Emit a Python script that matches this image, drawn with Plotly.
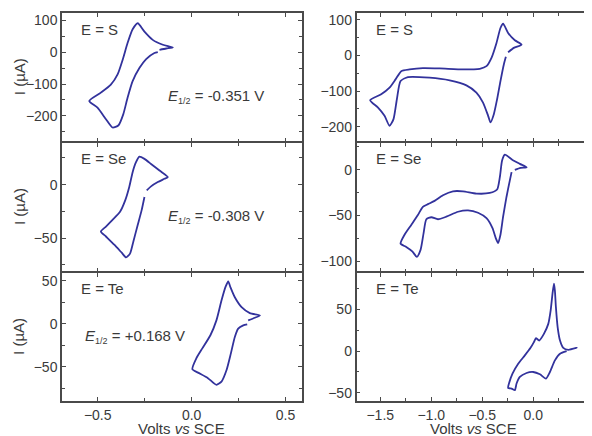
import plotly.graph_objects as go

# ---- data ----
s_left_V = [-0.171, -0.135, -0.100, -0.153, -0.207, -0.251, -0.287, -0.314, -0.341, -0.367, -0.394, -0.430, -0.483, -0.545,
            -0.501, -0.456, -0.421, -0.389, -0.364, -0.341, -0.314, -0.278, -0.242, -0.198, -0.180]
s_left_I = [7, 11, 14.3, 22.7, 38, 64, 90, 71, 28, -24, -70, -102, -127, -153,
            -174, -210, -236, -229, -195, -143, -91, -50, -22, -3, 0]

se_left_V = [-0.239, -0.216, -0.180, -0.144, -0.127, -0.171, -0.216, -0.251, -0.278, -0.296, -0.314, -0.332, -0.353, -0.381,
             -0.421, -0.456, -0.483, -0.456, -0.412, -0.371, -0.349, -0.328, -0.310, -0.287, -0.266, -0.251]
se_left_I = [-5.3, -1.6, 2.4, 5.5, 7.1, 13.2, 19.4, 24.1, 26.2, 21, 11.7, -2.2, -14.5, -25.4,
             -33, -39.2, -43.8, -48.5, -56.2, -63.9, -68, -64.5, -53.1, -37.7, -23.8, -11.5]

te_left_V = [0.301, 0.337, 0.364, 0.310, 0.266, 0.230, 0.207, 0.195, 0.181, 0.159, 0.132, 0.100, 0.057, 0.025, 0.004,
             0.034, 0.087, 0.132, 0.159, 0.186, 0.209, 0.230, 0.248, 0.275, 0.296]
te_left_I = [3.8, 6.9, 9.6, 12.3, 19.2, 30.7, 42.2, 49.2, 43, 26.9, 3.8, -13.5, -28.8, -40.4, -53.1,
             -57, -63.4, -71.2, -67.4, -53.9, -34.6, -15.5, -5.8, -2, -0.8]

s_right_V = [-0.246, -0.190, -0.114, -0.180, -0.246, -0.295, -0.321, -0.360, -0.409, -0.458, -0.524, -0.688, -0.917, -1.082,
             -1.212, -1.294, -1.350, -1.409, -1.491, -1.599, -1.524, -1.458, -1.409, -1.370, -1.337, -1.301, -1.229,
             -1.016, -0.819, -0.655, -0.557, -0.492, -0.442, -0.419, -0.386, -0.354, -0.321, -0.288, -0.268]
s_right_I = [9.2, 21.5, 30.7, 42.8, 63.4, 89.4, 77.4, 35.5, -6.4, -29.9, -37.2, -39.1, -36.3, -35.5,
             -39.1, -43.9, -67, -90.2, -108.9, -125.7, -146, -169.5, -197.5, -178.8, -122.9, -71.8, -60.6,
             -62.3, -69.8, -83.8, -104.3, -132.2, -169.5, -188, -164.8, -122.9, -71.8, -25.1, -3.7]

se_right_V = [-0.180, -0.124, -0.065, -0.131, -0.203, -0.278, -0.305, -0.327, -0.354, -0.426, -0.557, -0.688, -0.787, -0.885,
              -0.967, -1.032, -1.082, -1.131, -1.196, -1.262, -1.301, -1.245, -1.186, -1.141, -1.104, -1.075, -1.048,
              -0.999, -0.934, -0.852, -0.737, -0.639, -0.541, -0.458, -0.399, -0.367, -0.344, -0.321, -0.295, -0.262,
              -0.229, -0.212]
se_right_I = [0, 2.2, 2.8, 6.5, 10.8, 16.6, 10.1, -8, -21.6, -25.3, -26, -23.5, -23.5, -27.8,
              -34, -37.6, -40.5, -49.5, -60.3, -71.1, -80.8, -84.4, -89.2, -95.2, -87.3, -69.3, -54.1,
              -51.9, -54.1, -51.3, -45.9, -44.4, -47, -53, -63.9, -74.7, -80.1, -71.1, -51.3, -29.7,
              -11.6, -2.6]

te_right_V = [0.377, 0.427, 0.344, 0.295, 0.263, 0.240, 0.223, 0.213, 0.204, 0.191, 0.171, 0.148, 0.105, 0.059, 0.027,
              0.007, -0.026, -0.082, -0.147, -0.203, -0.236, -0.246, -0.212, -0.180, -0.163, -0.131, -0.065, 0.0,
              0.066, 0.125, 0.164, 0.213, 0.263, 0.328]
te_right_I = [2.4, 4, 1.6, 4, 12.8, 28.7, 52.6, 72.6, 81.3, 70.6, 48.7, 32.8, 20.8, 12.8, 15.6,
              10.8, 4, -5.1, -15.1, -27, -38.3, -44.3, -45, -47, -39, -31.1, -26.3, -25.1,
              -27.9, -33, -25.1, -11.1, -3.1, 0]

panel_labels = ["E = S", "E = Se", "E = Te"]
half_wave = ["-0.351 V", "-0.308 V", "+0.168 V"]
y_title = "I (\u00b5A)"
x_title = "Volts <i>vs</i> SCE"

# ---- layout geometry ----
# the page puts the figure 8 px in from the top-left corner of the window,
# so the figure is 8 px smaller and every reference position is shifted by 8 px
OFF = 8
W, H = 592 - OFF, 436 - OFF
LINE = "#32329c"
AX = "#4a4a4a"
TXT = "#3a3a3a"
FONT = "Liberation Sans, Arial, sans-serif"
LW = 1.5

def px(x):
    return (x - OFF) / W

def py(y):
    return 1 - (y - OFF) / H

col_dom = [[px(62), px(301.5)], [px(356.5), px(591)]]
# axis lines are drawn outside the domain, so leave a gap of one line width
# between stacked panels to make the shared borders coincide
row_px = [(13, 141.25), (142.75, 271.25), (272.75, 401)]
row_dom = [[py(b), py(t)] for (t, b) in row_px]

xranges = [[-0.69, 0.585], [-1.733, 0.567]]
yranges = [[[-279, 122], [-81, 39.2], [-90, 59.2]],
           [[-241, 119.6], [-111, 29.6], [-60, 94.3]]]
ydticks = [[100, 50, 50], [100, 50, 50]]

series = [[(s_left_V, s_left_I), (se_left_V, se_left_I), (te_left_V, te_left_I)],
          [(s_right_V, s_right_I), (se_right_V, se_right_I), (te_right_V, te_right_I)]]

fig = go.Figure()
layout = dict(width=W, height=H, margin=dict(l=0, r=0, t=0, b=0),
              paper_bgcolor="white", plot_bgcolor="white", showlegend=False,
              font=dict(family=FONT, size=14, color=TXT))
annotations = []
n = 0
for c in range(2):
    for r in range(3):
        n += 1
        xa = "x" if n == 1 else f"x{n}"
        ya = "y" if n == 1 else f"y{n}"
        V, I = series[c][r]
        fig.add_trace(go.Scatter(x=V, y=I, mode="lines", xaxis=xa, yaxis=ya,
                                 line=dict(color=LINE, width=1.8, shape="spline", smoothing=0.6),
                                 hoverinfo="skip"))
        common = dict(showline=True, linecolor=AX, linewidth=LW, mirror="ticks",
                      ticks="inside", ticklen=4, tickwidth=1.2, tickcolor=AX,
                      showgrid=False, zeroline=False,
                      tickfont=dict(family=FONT, size=14, color=TXT))
        layout["xaxis" if n == 1 else f"xaxis{n}"] = dict(
            common, domain=col_dom[c], range=xranges[c], anchor=ya,
            dtick=0.5, tick0=0, tickformat=".1f", showticklabels=(r == 2),
            minor=dict(dtick=0.25, tick0=0, ticks="inside", ticklen=3, tickcolor=AX))
        dy = ydticks[c][r]
        layout["yaxis" if n == 1 else f"yaxis{n}"] = dict(
            common, domain=row_dom[r], range=yranges[c][r], anchor=xa,
            dtick=dy, tick0=0,
            minor=dict(dtick=dy / 2, tick0=0, ticks="inside", ticklen=3, tickcolor=AX))
        x0 = 62 if c == 0 else 357
        annotations.append(dict(text=panel_labels[r], x=px(x0 + 17), y=py(row_px[r][0] + 16),
                                xref="paper", yref="paper", xanchor="left", yanchor="middle",
                                showarrow=False, font=dict(size=15, color=TXT)))

# E1/2 labels (left column)
e_pos = [(166, 96), (166, 216), (83, 336)]
for r in range(3):
    annotations.append(dict(text="<i>E</i><sub><span style='font-size:9px'>1/2</span></sub> = " + half_wave[r],
                            x=px(e_pos[r][0]), y=py(e_pos[r][1]), xref="paper", yref="paper",
                            xanchor="left", yanchor="middle", showarrow=False,
                            font=dict(size=15, color=TXT)))
# y titles
for r in range(3):
    annotations.append(dict(text=y_title, x=px(19), y=py((row_px[r][0] + row_px[r][1]) / 2),
                            xref="paper", yref="paper", textangle=-90, showarrow=False,
                            xanchor="center", yanchor="middle", font=dict(size=15, color=TXT)))
# x titles
for c in range(2):
    annotations.append(dict(text=x_title, x=(col_dom[c][0] + col_dom[c][1]) / 2, y=py(428),
                            xref="paper", yref="paper", showarrow=False,
                            xanchor="center", yanchor="middle", font=dict(size=15, color=TXT)))

layout["annotations"] = annotations
fig.update_layout(**layout)
fig.write_html("out.html")
